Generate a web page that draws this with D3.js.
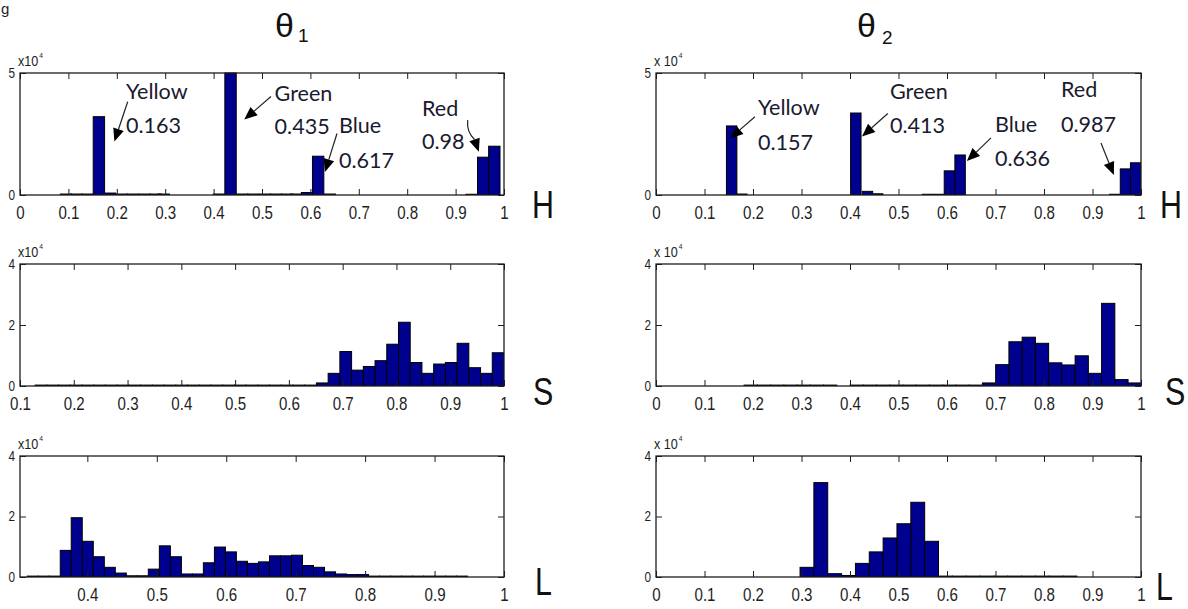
<!DOCTYPE html>
<html><head><meta charset="utf-8">
<script src="https://cdn.jsdelivr.net/npm/d3@7/dist/d3.min.js"></script>
<style>html,body{margin:0;padding:0;background:#fff;}svg{display:block;}</style>
</head><body>
<svg id="chart" width="1188" height="609"></svg>
<script>
// ================= DATA =================
const titles = ["θ", "θ"];
const titleSubs = ["1", "2"];
const channelLetters = ["H", "S", "L"];

const ticksFull = [0, 0.1, 0.2, 0.3, 0.4, 0.5, 0.6, 0.7, 0.8, 0.9, 1];
const ticksFrom01 = [0.1, 0.2, 0.3, 0.4, 0.5, 0.6, 0.7, 0.8, 0.9, 1];
const ticksFrom04 = [0.4, 0.5, 0.6, 0.7, 0.8, 0.9, 1];
const yTicksHue = [0, 50000];
const yTicksSL = [0, 20000, 40000];

// Hue, theta 1
const hue1BinWidth = 0.0235;
const hue1Centers = [0.095, 0.117, 0.140, 0.163, 0.186, 0.210, 0.233, 0.257, 0.280, 0.297,
  0.411, 0.435, 0.459, 0.482, 0.506, 0.529, 0.552, 0.571, 0.593, 0.616, 0.640,
  0.933, 0.957, 0.980];
const hue1Counts = [400, 400, 400, 32100, 800, 400, 400, 400, 400, 400,
  400, 50000, 400, 400, 400, 400, 400, 400, 1000, 15900, 400,
  300, 15500, 20000];

// Hue, theta 2
const hue2BinWidth = 0.0215;
const hue2Centers = [0.156, 0.177, 0.412, 0.436, 0.457, 0.560, 0.583, 0.605, 0.627, 0.946, 0.968, 0.989];
const hue2Counts = [28300, 400, 33600, 1500, 500, 300, 300, 9900, 16400, 300, 10700, 13200];

// Saturation, theta 1
const sat1BinWidth = 0.0218;
const sat1Centers = [0.1389, 0.1607, 0.1825, 0.2043, 0.2261, 0.2479, 0.2697, 0.2915, 0.3133, 0.3351,
  0.3569, 0.3787, 0.4005, 0.4223, 0.4441, 0.4659, 0.4877, 0.5095, 0.5313, 0.5531,
  0.5749, 0.5967, 0.6185, 0.6403, 0.6621, 0.6839, 0.7057, 0.7275, 0.7493, 0.7711,
  0.7929, 0.8147, 0.8365, 0.8583, 0.8801, 0.9019, 0.9237, 0.9455, 0.9673, 0.9891];
const sat1Counts = [300, 300, 300, 300, 300, 300, 300, 300, 300, 300,
  300, 300, 300, 300, 300, 300, 300, 300, 300, 300,
  300, 300, 300, 300, 1000, 4150, 11300, 5200, 6400, 8300,
  13700, 20900, 7700, 4150, 7200, 7700, 14000, 6000, 4150, 10900];

// Saturation, theta 2
const sat2BinWidth = 0.0273;
const sat2Centers = [0.1953, 0.2226, 0.2499, 0.2772, 0.3045, 0.3318, 0.3591, 0.3864, 0.4137, 0.4410,
  0.4683, 0.4956, 0.5229, 0.5502, 0.5775, 0.6048, 0.6321, 0.6594, 0.6867, 0.7140,
  0.7413, 0.7686, 0.7959, 0.8232, 0.8505, 0.8778, 0.9051, 0.9324, 0.9597, 0.9870];
const sat2Counts = [300, 300, 300, 300, 300, 300, 300, 0, 300, 300,
  300, 300, 300, 300, 300, 300, 300, 300, 1000, 7000,
  14500, 16000, 14000, 7600, 6900, 9900, 4150, 27100, 2100, 1000];

// Lightness, theta 1
const lit1BinWidth = 0.01586;
const lit1Centers = [0.3213, 0.3372, 0.3530, 0.3689, 0.3847, 0.4006, 0.4165, 0.4323, 0.4482, 0.4640,
  0.4799, 0.4957, 0.5116, 0.5275, 0.5433, 0.5592, 0.5750, 0.5909, 0.6067, 0.6226,
  0.6385, 0.6543, 0.6702, 0.6860, 0.7019, 0.7177, 0.7336, 0.7495, 0.7653, 0.7812,
  0.7970, 0.8129, 0.8287, 0.8446, 0.8605, 0.8763, 0.8922, 0.9080, 0.9239, 0.9397];
const lit1Counts = [300, 300, 300, 8800, 19600, 11800, 6700, 3200, 1300, 400,
  400, 2600, 10300, 6700, 1000, 1000, 4700, 9900, 8300, 5200,
  4500, 5000, 7000, 7000, 7200, 3800, 3200, 1700, 1000, 800,
  800, 300, 300, 300, 300, 300, 300, 300, 300, 300];

// Lightness, theta 2
const lit2BinWidth = 0.02855;
const lit2Centers = [0.3113, 0.3398, 0.3684, 0.3969, 0.4255, 0.4540, 0.4826, 0.5111, 0.5397, 0.5682,
  0.5968, 0.6253, 0.6539, 0.6824, 0.7110, 0.7395, 0.7681, 0.7966, 0.8252, 0.8537];
const lit2Counts = [3200, 31200, 1100, 500, 4500, 8300, 12900, 17600, 24700, 11800,
  300, 300, 300, 300, 300, 300, 300, 300, 300, 300];

// Hue peak annotations (colour name, peak value)
const annNames = ["Yellow", "Green", "Blue", "Red"];
const annValues1 = ["0.163", "0.435", "0.617", "0.98"];
const annValues2 = ["0.157", "0.413", "0.636", "0.987"];

// ================= LAYOUT =================
const FONT = "'Liberation Sans', Arial, sans-serif";
const ANN_FONT = "Lato, 'Open Sans', sans-serif";
const NARROW = 0.84;
const BAR_FILL = "#00008f";
const INK = "#1e1e1e";

const colX = [[20, 504], [656, 1141]];
const rowY = [[73, 195], [264, 386], [456, 577]];

const panels = [
  {id: "h1", col: 0, row: 0, centers: hue1Centers, counts: hue1Counts, bw: hue1BinWidth, xDomain: [0, 1], xTicks: ticksFull, yMax: 50000, yTicks: yTicksHue},
  {id: "h2", col: 1, row: 0, centers: hue2Centers, counts: hue2Counts, bw: hue2BinWidth, xDomain: [0, 1], xTicks: ticksFull, yMax: 50000, yTicks: yTicksHue},
  {id: "s1", col: 0, row: 1, centers: sat1Centers, counts: sat1Counts, bw: sat1BinWidth, xDomain: [0.1, 1], xTicks: ticksFrom01, yMax: 40000, yTicks: yTicksSL},
  {id: "s2", col: 1, row: 1, centers: sat2Centers, counts: sat2Counts, bw: sat2BinWidth, xDomain: [0, 1], xTicks: ticksFull, yMax: 40000, yTicks: yTicksSL},
  {id: "l1", col: 0, row: 2, centers: lit1Centers, counts: lit1Counts, bw: lit1BinWidth, xDomain: [0.303, 1], xTicks: ticksFrom04, yMax: 40000, yTicks: yTicksSL},
  {id: "l2", col: 1, row: 2, centers: lit2Centers, counts: lit2Counts, bw: lit2BinWidth, xDomain: [0, 1], xTicks: ticksFull, yMax: 40000, yTicks: yTicksSL}
];

// annotation placement in data units of the hue panels: [textX, nameY, valueY, fromX, fromY, toX, toY, curve]
const annPos1 = [
  [0.219, 39300, 25400, 0.2225, 38200, 0.195, 21900, 0],
  [0.526, 38400, 24800, 0.5186, 40400, 0.4634, 30900, 0],
  [0.659, 25500, 11230, 0.655, 25200, 0.630, 9400, 0],
  [0.8306, 32300, 18700, 0.925, 30700, 0.948, 17700, 1]
];
const annPos2 = [
  [0.2103, 32800, 18600, 0.204, 32100, 0.1526, 23200, 0],
  [0.4825, 39500, 25300, 0.478, 33400, 0.4247, 24000, 0],
  [0.699, 26000, 11700, 0.6907, 23400, 0.641, 13900, 0],
  [0.835, 40000, 25900, 0.9175, 21300, 0.944, 8200, 0]
];

const svg = d3.select("#chart");
svg.append("rect").attr("width", 1188).attr("height", 609).attr("fill", "#fff");

// fragment of a caption word at the top-left corner
svg.append("text").attr("x", 1).attr("y", 14).attr("font-family", FONT).attr("font-size", 15).attr("fill", INK).text("g");

const scales = {};

panels.forEach(p => {
  const [x0, x1] = colX[p.col];
  const [y0, y1] = rowY[p.row];
  const x = d3.scaleLinear().domain(p.xDomain).range([x0, x1]);
  const y = d3.scaleLinear().domain([0, p.yMax]).range([y1, y0]);
  scales[p.id] = {x, y};
  const g = svg.append("g");

  const clipId = "clip-" + p.id;
  svg.append("clipPath").attr("id", clipId).append("rect")
    .attr("x", x0).attr("y", y0 - 1).attr("width", x1 - x0).attr("height", y1 - y0 + 1);

  const bins = p.centers.map((c, i) => ({c, n: p.counts[i]})).filter(d => d.n > 0);
  g.append("g").attr("clip-path", `url(#${clipId})`)
    .selectAll("rect").data(bins).join("rect")
    .attr("x", d => x(d.c - p.bw / 2))
    .attr("width", d => x(d.c + p.bw / 2) - x(d.c - p.bw / 2))
    .attr("y", d => y(d.n))
    .attr("height", d => y(0) - y(d.n))
    .attr("fill", BAR_FILL).attr("stroke", "#000").attr("stroke-width", 1);

  // axes (MATLAB style inward ticks)
  const fmt = d3.format("~g");
  const gx = g.append("g").attr("transform", `translate(0,${y1})`)
    .call(d3.axisBottom(x).tickValues(p.xTicks).tickFormat(fmt).tickSizeInner(-6).tickSizeOuter(0).tickPadding(11));
  const gt = g.append("g").attr("transform", `translate(0,${y0})`)
    .call(d3.axisTop(x).tickValues(p.xTicks).tickFormat("").tickSizeInner(-6).tickSizeOuter(0));
  const gl = g.append("g").attr("transform", `translate(${x0},0)`)
    .call(d3.axisLeft(y).tickValues(p.yTicks).tickFormat(d => fmt(d / 10000)).tickSizeInner(-6).tickSizeOuter(0).tickPadding(6));
  const gr = g.append("g").attr("transform", `translate(${x1},0)`)
    .call(d3.axisRight(y).tickValues(p.yTicks).tickFormat("").tickSizeInner(-6).tickSizeOuter(0));
  [gx, gt, gl, gr].forEach(a => {
    a.select(".domain").remove();
    a.attr("font-family", FONT).attr("color", INK);
    a.selectAll("line").attr("stroke-width", 1);
    a.selectAll("text").attr("transform", `scale(${NARROW},1)`);
  });
  gx.attr("font-size", 18).selectAll("text").attr("font-size", 18);
  gl.attr("font-size", 14).selectAll("text").attr("font-size", 14);

  // box
  g.append("rect").attr("x", x0).attr("y", y0).attr("width", x1 - x0).attr("height", y1 - y0)
    .attr("fill", "none").attr("stroke", INK).attr("stroke-width", 1.3);

  // exponent label x10^4
  const ex = g.append("text").attr("transform", `translate(${x0 - 2},${y0 - 7}) scale(${NARROW},1)`)
    .attr("font-family", FONT).attr("font-size", 15).attr("fill", INK);
  ex.append("tspan").text(p.col === 0 ? "x10" : "x 10");
  ex.append("tspan").attr("dy", -8).attr("dx", 1).attr("font-size", 8).text("4");

  // channel letter
  const letterPos = [[532, 218], [533, 405], [535, 595], [1160, 218], [1165, 405], [1156, 600]];
  const lp = letterPos[p.col * 3 + p.row];
  svg.append("text").attr("transform", `translate(${lp[0]},${lp[1]}) scale(0.8,1)`)
    .attr("font-family", FONT).attr("font-size", 38).attr("fill", "#111").text(channelLetters[p.row]);
});

// titles
[[275, 37, 298, 42], [857, 37, 882, 44]].forEach((t, i) => {
  svg.append("text").attr("x", t[0]).attr("y", t[1]).attr("font-family", FONT).attr("font-size", 34).attr("fill", "#111").text(titles[i]);
  svg.append("text").attr("x", t[2]).attr("y", t[3]).attr("font-family", FONT).attr("font-size", 19).attr("fill", "#111").text(titleSubs[i]);
});

// annotations
function drawArrow(g, ax, ay, bx, by, curve) {
  const L = 13, Wd = 5.5;
  const dx = bx - ax, dy = by - ay, len = Math.hypot(dx, dy);
  const ux = dx / len, uy = dy / len;
  const baseX = bx - ux * L, baseY = by - uy * L;
  if (curve) {
    const cx = (ax + baseX) / 2 - uy * 5, cy = (ay + baseY) / 2 + ux * 5;
    g.append("path").attr("d", `M${ax},${ay} Q${cx},${cy} ${baseX},${baseY}`)
      .attr("fill", "none").attr("stroke", "#222").attr("stroke-width", 1.2);
  } else {
    g.append("line").attr("x1", ax).attr("y1", ay).attr("x2", baseX).attr("y2", baseY)
      .attr("stroke", "#222").attr("stroke-width", 1.2);
  }
  g.append("path").attr("d", `M${bx},${by} L${baseX - uy * Wd},${baseY + ux * Wd} L${baseX + uy * Wd},${baseY - ux * Wd} Z`)
    .attr("fill", "#000");
}

[["h1", annPos1, annValues1], ["h2", annPos2, annValues2]].forEach(([id, pos, vals]) => {
  const {x, y} = scales[id];
  const g = svg.append("g");
  annNames.forEach((name, i) => {
    const a = pos[i];
    g.append("text").attr("transform", `translate(${x(a[0])},${y(a[1])}) scale(0.98,1)`)
      .attr("font-family", ANN_FONT).attr("font-size", 22).attr("fill", "#1a1a2e").text(name);
    g.append("text").attr("transform", `translate(${x(a[0])},${y(a[2])}) scale(0.98,1)`)
      .attr("font-family", ANN_FONT).attr("font-size", 22).attr("fill", "#1a1a2e").text(vals[i]);
    drawArrow(g, x(a[3]), y(a[4]), x(a[5]), y(a[6]), a[7]);
  });
});
</script>
</body></html>
